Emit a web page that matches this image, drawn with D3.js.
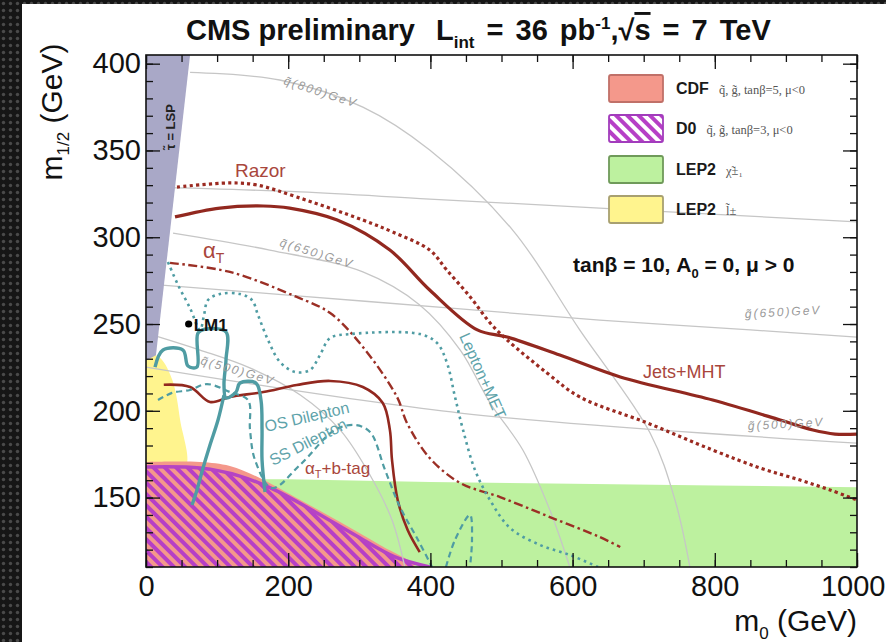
<!DOCTYPE html>
<html><head><meta charset="utf-8">
<script src="https://cdn.jsdelivr.net/npm/d3@7"></script>
<style>
html,body{margin:0;padding:0;background:#fff;}
svg{display:block;font-family:"Liberation Sans",Arial,Helvetica,sans-serif;}
</style></head><body>
<svg id="chart" width="886" height="642"></svg>
<script>
// ---- axes ----
const m0Domain = [0, 1000];
const mHalfDomain = [110, 405];
const m0Ticks = [0, 200, 400, 600, 800, 1000];
const m0Minor = d3.range(0, 1001, 50);
const mHalfTicks = [150, 200, 250, 300, 350, 400];
const mHalfMinor = d3.range(110, 406, 10);

// ---- excluded / theory regions, [m0, m1/2] ----
const lspRegion = [[0,405],[62,405],[14,232],[0,229]];
const lep2Slepton = [[0,234],[20,230.4],[37,217.7],[48,194.7],[55,167],[0,167]];
const lep2Chargino = [[0,161],[200,160.5],[400,159],[600,158],[800,157],[1000,156],[1000,110],[0,110]];
const cdfRegion = [[0,170.5],[76,170.5],[118,168.2],[160,161.3],[217,148.6],[273,135.9],[329,122.7],[378,110],[0,110]];
const d0Region = [[0,167.6],[76,167],[132,162.4],[181,154.4],[238,141.7],[294,128.4],[350,115.8],[399,110],[0,110]];
const d0Edge = [[0,167.6],[76,167],[132,162.4],[181,154.4],[238,141.7],[294,128.4],[350,115.8],[399,110]];

// ---- iso-mass contours ----
const squark800 = [[62,395],[188,390.6],[305,375],[399,350.3],[516,304],[610,246.6],[709,187.2],[744,148.6],[765,110]];
const squark650 = [[38,302.4],[174,292.6],[305,280],[385,261],[442,235],[484,204.5],[530,177.4],[568,142.8],[596,110]];
const squark500 = [[15.5,242.9],[76,235],[146,224.7],[217,209.1],[273,189],[315,163],[346,137.1],[364,110]];
const gluino800 = [[0,329],[217,326.1],[399,322],[638,316.8],[1000,308.8]];
const gluino650 = [[0,273.1],[217,266.1],[442,258.7],[638,252.3],[850,246.6],[1000,242.5]];
const gluino500 = [[0,225.2],[442,198.7],[1000,181.4]];

// ---- observed limits ----
const jetsMHT = [[40.8,311.7],[104,316.8],[165,318],[202,316.8],[269,309.9],[343,292.6],[399,269.6],[466,246.6],[508,242.5],[582,232.1],[667,219.5],[797,206.2],[892,194.7],[938,188.9],[969,186.6],[1000,186.6]];
const razor = [[43.6,328.9],[118,331.3],[156,330.1],[212,323.2],[305,309.9],[347,303],[399,292.6],[423,281.1],[456,265.6],[484,250.6],[508,240.8],[564,221.8],[610,208],[705,193],[797,177.4],[864,167],[920,160.1],[962,154.4],[1000,148.6]];
const alphaT = [[33.8,285.2],[118,280],[212,265.6],[259,256.3],[305,236.8],[353,208],[367,193],[399,172.8],[442,158.4],[498,150.3],[568,138.8],[638,127.3],[667,121.5]];
const alphaTbtag = [[25,215],[62,213.7],[90,205.1],[118,208],[165,210.8],[212,214.9],[259,217.2],[305,213.7],[333,204.5],[343,189],[346,171.7],[354,148.6],[368,131.3],[385,118.6]];
const osDilepton = [[12.7,225.2],[23.9,235],[52,235],[59.1,225.8],[71.7,225.2],[73.1,244.8],[84.4,247.1],[112.5,245.4],[112.5,229.3],[109.7,214.9],[112.5,207.4],[126.6,210.8],[132.2,216],[154.7,216],[161.7,206.2],[163.2,189],[163.2,171.7],[167.4,153.2]];
const osDileptonBranch = [[109.7,209.1],[101.3,194.7],[90,180.3],[80.2,167],[71.7,154.4],[64.7,145.7]];
const ssDilepton = [[16.9,206.2],[36.6,210.3],[61.9,212],[85.8,215.4],[118.1,210.8],[143.5,206.2],[146.3,189],[153.3,171.7],[177.2,155.5],[216.6,168.8],[265.8,189],[294,191.8],[315.1,187.8],[336.2,165.9],[357.2,144.6],[382.6,125.6],[402.3,110]];
const ssDileptonLobe = [[421.9,110],[434.6,125.6],[455.7,140],[458.5,125.6],[455.7,110]];
const leptonMET = [[30.9,285.7],[45,272.5],[61.9,259.2],[76,246.6],[81.6,255.2],[87.2,263.8],[104.1,267.3],[132.2,267.3],[149.1,263.8],[157.5,255.2],[171.6,240.8],[188.5,228.1],[209.6,222.4],[230.7,223.5],[244.7,232.1],[258.8,241.9],[286.9,244.2],[385.4,244.2],[409.3,239.1],[423.4,227.5],[434.6,208],[445.9,189],[462.7,165.9],[483.8,148.6],[512,132.5],[554.2,122.7],[596.4,116.9],[635.7,110]];
const lm1Point = [60, 250];

const svg = d3.select("#chart");
const W = 886, H = 642;
const x = d3.scaleLinear().domain(m0Domain).range([146, 857]);
const y = d3.scaleLinear().domain(mHalfDomain).range([567, 55]);

const defs = svg.append("defs");
// dotted dark backdrop
const dots = defs.append("pattern").attr("id","dots").attr("patternUnits","userSpaceOnUse")
  .attr("width",7).attr("height",7);
dots.append("rect").attr("width",7).attr("height",7).attr("fill","#161616");
dots.append("circle").attr("cx",3.5).attr("cy",3.5).attr("r",1.7).attr("fill","#4a4a4a");
// D0 hatching
const hatch = defs.append("pattern").attr("id","d0hatch").attr("patternUnits","userSpaceOnUse")
  .attr("width",8).attr("height",8).attr("patternTransform","rotate(-45)");
hatch.append("rect").attr("width",4).attr("height",8).attr("fill","#b63fc6");
const hatchL = defs.append("pattern").attr("id","d0hatchL").attr("patternUnits","userSpaceOnUse")
  .attr("width",8).attr("height",8).attr("patternTransform","rotate(-45)");
hatchL.append("rect").attr("width",8).attr("height",8).attr("fill","#ffffff");
hatchL.append("rect").attr("width",4).attr("height",8).attr("fill","#b63fc6");
defs.append("clipPath").attr("id","plotClip").append("rect")
  .attr("x",146).attr("y",55).attr("width",711).attr("height",512);

svg.append("rect").attr("width",W).attr("height",H).attr("fill","url(#dots)");
svg.append("rect").attr("x",22).attr("y",4).attr("width",W-22).attr("height",H-4).attr("fill","#fff");

const plot = svg.append("g").attr("clip-path","url(#plotClip)");
const area = d3.line().x(d => x(d[0])).y(d => y(d[1]));
const smooth = d3.line().x(d => x(d[0])).y(d => y(d[1])).curve(d3.curveCatmullRom.alpha(0.5));

plot.append("path").attr("d", area(lep2Chargino) + "Z").attr("fill","#bdf19f");
plot.append("path").attr("d", smooth(lep2Slepton) + "Z").attr("fill","#fff48e");
plot.append("path").attr("d", smooth(cdfRegion) + "Z").attr("fill","#f4988b");
plot.append("path").attr("d", smooth(d0Region) + "Z").attr("fill","url(#d0hatch)");
plot.append("path").attr("d", smooth(d0Edge)).attr("fill","none").attr("stroke","#b544c4").attr("stroke-width",3.5);

// iso-mass lines
const grey = "#c6c6c6";
[squark800, squark650, squark500, gluino800, gluino650, gluino500].forEach(c => {
  plot.append("path").attr("d", smooth(c)).attr("fill","none").attr("stroke",grey).attr("stroke-width",1.3);
});

plot.append("path").attr("d", area(lspRegion) + "Z").attr("fill","#a9a8c7");

// limit curves
const red = "#92281f";
function curve(data, color, width, dash, gen) {
  const p = plot.append("path").attr("d", (gen || smooth)(data)).attr("fill","none")
    .attr("stroke",color).attr("stroke-width",width).attr("stroke-linejoin","round");
  if (dash) p.attr("stroke-dasharray", dash);
  return p;
}
curve(jetsMHT, red, 3.2);
curve(razor, "#9b2a21", 3.2, "3.2,3.2");
curve(alphaT, "#9b2f25", 2.4, "9,3.5,2.5,3.5");
curve(alphaTbtag, red, 2.6);
const teal = "#4f9ca3";
curve(osDilepton, teal, 3.4);
curve(osDileptonBranch, teal, 3.4);
curve(ssDilepton, teal, 2.2, "6,4");
curve(ssDileptonLobe, teal, 2.2, "6,4");
curve(leptonMET, teal, 2.6, "2.6,4");

plot.append("circle").attr("cx", x(lm1Point[0])).attr("cy", y(lm1Point[1])).attr("r",3.6).attr("fill","#000");

// frame and ticks
function styleAxis(g) {
  g.select(".domain").remove();
  g.selectAll("line").attr("stroke","#111").attr("stroke-width",1.3);
  g.selectAll("text").attr("font-family","Liberation Sans, Arial, sans-serif").attr("font-size",29).attr("fill","#111");
}
const noLabel = () => "";
svg.append("g").attr("transform","translate(0,567)").call(d3.axisBottom(x).tickValues(m0Minor).tickSize(-7).tickFormat(noLabel)).call(styleAxis);
const xAxisG = svg.append("g").attr("transform","translate(0,567)").call(d3.axisBottom(x).tickValues(m0Ticks).tickSize(-14).tickPadding(8).tickFormat(d3.format("d"))).call(styleAxis);
// keep the last label inside the page
xAxisG.selectAll(".tick").filter(d => d === 1000).select("text").attr("text-anchor","end").attr("dx",28);
svg.append("g").attr("transform","translate(0,55)").call(d3.axisTop(x).tickValues(m0Minor).tickSize(-7).tickFormat(noLabel)).call(styleAxis);
svg.append("g").attr("transform","translate(0,55)").call(d3.axisTop(x).tickValues(m0Ticks).tickSize(-14).tickFormat(noLabel)).call(styleAxis);
svg.append("g").attr("transform","translate(146,0)").call(d3.axisLeft(y).tickValues(mHalfMinor).tickSize(-7).tickFormat(noLabel)).call(styleAxis);
svg.append("g").attr("transform","translate(146,0)").call(d3.axisLeft(y).tickValues(mHalfTicks).tickSize(-14).tickPadding(5).tickFormat(d3.format("d"))).call(styleAxis);
svg.append("g").attr("transform","translate(857,0)").call(d3.axisRight(y).tickValues(mHalfMinor).tickSize(-7).tickFormat(noLabel)).call(styleAxis);
svg.append("g").attr("transform","translate(857,0)").call(d3.axisRight(y).tickValues(mHalfTicks).tickSize(-14).tickFormat(noLabel)).call(styleAxis);
svg.append("rect").attr("x",146).attr("y",55).attr("width",711).attr("height",512)
  .attr("fill","none").attr("stroke","#111").attr("stroke-width",1.6);

// title
const title = svg.append("text").attr("x",186).attr("y",40).attr("font-size",29).attr("font-weight","bold").attr("fill","#111");
title.append("tspan").text("CMS preliminary");
title.append("tspan").attr("x",436).text("L");
title.append("tspan").attr("font-size",17).attr("dy",8).text("int");
title.append("tspan").attr("dy",-8).attr("word-spacing",4).text(" = 36 pb");
title.append("tspan").attr("font-size",17).attr("dy",-11).text("-1");
title.append("tspan").attr("dy",11).text(",\u221A");
title.append("tspan").attr("text-decoration","overline").text("s");
title.append("tspan").attr("word-spacing",4).text(" = 7 TeV");

// axis titles
const yt = svg.append("text").attr("transform","translate(62,112) rotate(-90)").attr("text-anchor","middle")
  .attr("font-size",30).attr("fill","#111");
yt.append("tspan").text("m");
yt.append("tspan").attr("font-size",17).attr("dy",7).text("1/2");
yt.append("tspan").attr("dy",-7).text(" (GeV)");
const xt = svg.append("text").attr("x",857).attr("y",631).attr("text-anchor","end").attr("font-size",30).attr("fill","#111");
xt.append("tspan").text("m");
xt.append("tspan").attr("font-size",17).attr("dy",8).text("0");
xt.append("tspan").attr("dy",-8).text(" (GeV)");

// legend
const legendItems = [
  {label:"CDF", note:"q\u0303, g\u0303, tan\u03B2=5, \u03BC<0", fill:"#f4988b", stroke:"#c07068", y:75},
  {label:"D0", note:"q\u0303, g\u0303, tan\u03B2=3, \u03BC<0", fill:"url(#d0hatchL)", stroke:"#a23cbc", y:115},
  {label:"LEP2", note:"\u03C7\u0303\u00B1\u2081", fill:"#bdf19f", stroke:"#6f9a5a", y:156},
  {label:"LEP2", note:"l\u0303\u00B1", fill:"#fff48e", stroke:"#a8a070", y:196}
];
legendItems.forEach(it => {
  svg.append("rect").attr("x",609).attr("y",it.y).attr("width",54).attr("height",27).attr("rx",2)
    .attr("fill",it.fill).attr("stroke",it.stroke).attr("stroke-width",1.8);
  const t = svg.append("text").attr("x",676).attr("y",it.y+19).attr("fill","#1a1a1a");
  t.append("tspan").attr("font-size",16).attr("font-weight","bold").text(it.label);
  t.append("tspan").attr("dx",10).attr("font-size",12.5).attr("font-family","Liberation Serif, serif")
    .attr("fill","#555").text(it.note);
});

// parameter set
const par = svg.append("text").attr("x",573).attr("y",272).attr("font-size",21).attr("font-weight","bold").attr("fill","#111");
par.append("tspan").text("tan\u03B2 = 10, A");
par.append("tspan").attr("font-size",13).attr("dy",6).text("0");
par.append("tspan").attr("dy",-6).text(" = 0, \u03BC > 0");

// curve labels
const redLabel = "#a9463c", tealLabel = "#5ea3aa";
function label(txt, tx, ty, rot, color, size, extra) {
  const t = svg.append("text").attr("transform",`translate(${tx},${ty}) rotate(${rot})`)
    .attr("font-size",size).attr("fill",color);
  if (extra) extra(t); else t.text(txt);
  return t;
}
label("Razor", 235, 177, 0, redLabel, 19);
label("Jets+MHT", 643, 378, 0, redLabel, 18);
label("", 203, 258, 0, redLabel, 22, t => {
  t.append("tspan").text("\u03B1");
  t.append("tspan").attr("font-size",14).attr("dy",5).text("T");
});
label("", 305, 474, 0, redLabel, 17, t => {
  t.append("tspan").text("\u03B1");
  t.append("tspan").attr("font-size",11).attr("dy",4).text("T");
  t.append("tspan").attr("dy",-4).text("+b-tag");
});
label("OS Dilepton", 266, 432, -13, tealLabel, 16);
label("SS Dilepton", 273, 466, -27, tealLabel, 16);
label("Lepton+MET", 459, 336, 66, tealLabel, 16);

svg.append("text").attr("x",x(lm1Point[0])+5).attr("y",y(lm1Point[1])+7).attr("font-size",17)
  .attr("font-weight","bold").attr("fill","#111").text("LM1");
svg.append("text").attr("transform","translate(175,150) rotate(-90)").attr("font-size",13)
  .attr("font-weight","bold").attr("fill","#222").text("\u03C4\u0303 = LSP");

const isoLabel = (txt, tx, ty, rot) => label(txt, tx, ty, rot, "#9a9a9a", 12, t => {
  t.attr("font-style","italic").attr("letter-spacing",2).text(txt);
});
isoLabel("q\u0303(800)GeV", 283, 84, 18);
isoLabel("q\u0303(650)GeV", 279, 246, 17);
isoLabel("q\u0303(500)GeV", 200, 364, 16);
isoLabel("g\u0303(650)GeV", 745, 318, -3);
isoLabel("g\u0303(500)GeV", 748, 430, -3);
</script>
</body></html>
